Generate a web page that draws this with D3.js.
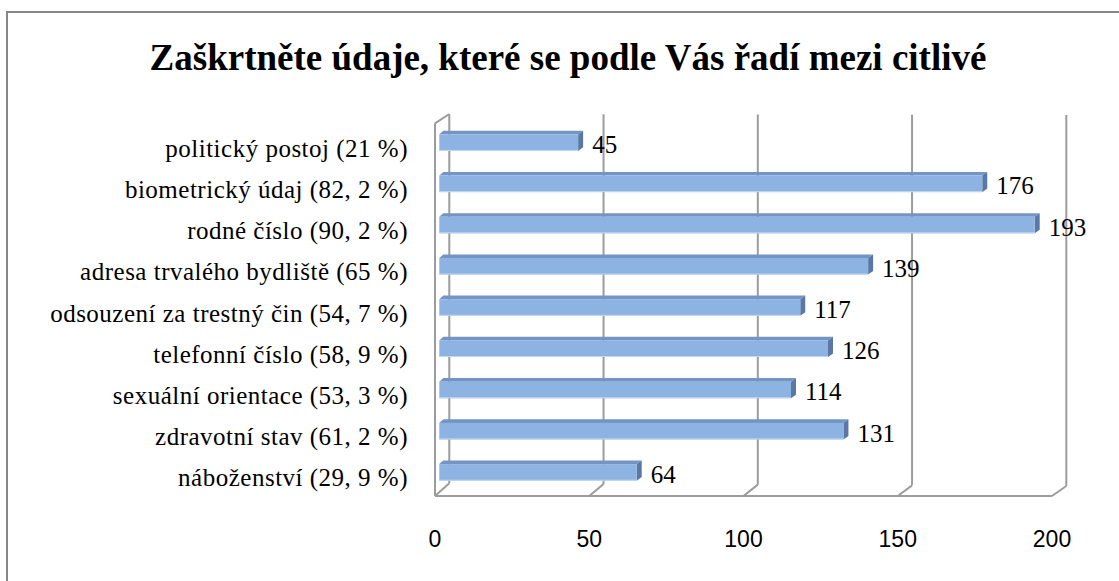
<!DOCTYPE html>
<html>
<head>
<meta charset="utf-8">
<script src="https://cdn.jsdelivr.net/npm/d3@7"></script>
<style>
  html, body { margin: 0; padding: 0; background: #fff; }
  svg { display: block; }
</style>
</head>
<body>
<script>
const titleText = "Zaškrtněte údaje, které se podle Vás řadí mezi citlivé";
const categories = [
  "politický postoj (21 %)",
  "biometrický údaj (82, 2 %)",
  "rodné číslo (90, 2 %)",
  "adresa trvalého bydliště (65 %)",
  "odsouzení za trestný čin (54, 7 %)",
  "telefonní číslo (58, 9 %)",
  "sexuální orientace (53, 3 %)",
  "zdravotní stav (61, 2 %)",
  "náboženství (29, 9 %)"
];
const values = [45, 176, 193, 139, 117, 126, 114, 131, 64];
const tickValues = [0, 50, 100, 150, 200];

const W = 1119, H = 581;
const serif = "'Liberation Serif', 'Times New Roman', Times, serif";
const svg = d3.select("body").append("svg").attr("width", W).attr("height", H);

// outer chart border (only top/left visible in frame)
svg.append("rect").attr("x", 7).attr("y", 12).attr("width", 1140).attr("height", 620)
  .attr("fill", "#fff").attr("stroke", "#878787").attr("stroke-width", 2);

// title
svg.append("text").attr("x", 568).attr("y", 70).attr("text-anchor", "middle")
  .style("font-family", serif)
  .attr("font-weight", "bold").attr("font-size", 37).attr("fill", "#000")
  .text(titleText);

// scales (front plane of the 3D box)
const x = d3.scaleLinear().domain([0, 200]).range([435, 1052]);
const y = d3.scalePoint().domain(categories).range([142.6, 472.4]);

// depth offsets
const backDx = 14.3;
const floorFrontY = 496;
const backBottomY = v => 483.3 + (v / 200) * 2.7;
const backTopY = v => 114 + (v / 200) * 1;
const wallFrontTopY = 123.3;
const gridColor = "#9c9c9c";

const grid = svg.append("g").attr("fill", "none").attr("stroke", gridColor).attr("stroke-width", 2);

// back wall vertical gridlines
grid.selectAll("line.back").data(tickValues).join("line")
  .attr("x1", d => x(d) + backDx).attr("x2", d => x(d) + backDx)
  .attr("y1", d => backTopY(d)).attr("y2", d => backBottomY(d));

// floor diagonals
grid.selectAll("line.floor").data(tickValues).join("line")
  .attr("x1", d => x(d)).attr("y1", floorFrontY)
  .attr("x2", d => x(d) + backDx).attr("y2", d => backBottomY(d));

// front floor edge
grid.append("line").attr("x1", x(0)).attr("x2", x(200)).attr("y1", floorFrontY).attr("y2", floorFrontY);

// left wall
grid.append("line").attr("x1", x(0)).attr("x2", x(0)).attr("y1", wallFrontTopY).attr("y2", floorFrontY);
grid.append("line").attr("x1", x(0)).attr("y1", wallFrontTopY).attr("x2", x(0) + backDx).attr("y2", backTopY(0));

// bars
const barDx = 4.3, barH = 16.6, depX = 5, depY = 3.6;
const bars = svg.append("g");
const data = categories.map((c, i) => ({ c, v: values[i] }));

bars.selectAll("path.top").data(data).join("path")
  .attr("fill", "#7494c4")
  .attr("d", d => {
    const x0 = x(0) + barDx, x1 = x(d.v) + barDx, yt = y(d.c) - barH / 2;
    return `M${x0},${yt}L${x1},${yt}L${x1 + depX},${yt - depY}L${x0 + depX - 1},${yt - depY}Z`;
  });
bars.selectAll("path.side").data(data).join("path")
  .attr("fill", "#5a78a6")
  .attr("d", d => {
    const x1 = x(d.v) + barDx, yt = y(d.c) - barH / 2;
    return `M${x1},${yt}L${x1 + depX},${yt - depY}L${x1 + depX},${yt + barH - depY}L${x1},${yt + barH}Z`;
  });
bars.selectAll("rect.front").data(data).join("rect")
  .attr("fill", "#8db3e2")
  .attr("x", x(0) + barDx).attr("y", d => y(d.c) - barH / 2)
  .attr("width", d => x(d.v) - x(0)).attr("height", barH);
bars.selectAll("line.edge").data(data).join("line")
  .attr("stroke", "#c6d9f1").attr("stroke-width", 1)
  .attr("x1", x(0) + barDx).attr("x2", d => x(d.v) + barDx)
  .attr("y1", d => y(d.c) + barH / 2 - 0.5).attr("y2", d => y(d.c) + barH / 2 - 0.5);

// value labels
svg.append("g").selectAll("text").data(data).join("text")
  .attr("x", d => x(d.v) + barDx + depX + 9).attr("y", d => y(d.c) + 10.5)
  .style("font-family", serif)
  .attr("font-size", 25).attr("fill", "#000")
  .text(d => d.v);

// category labels
svg.append("g").selectAll("text").data(categories).join("text")
  .attr("x", 408).attr("y", d => y(d) + 14)
  .attr("text-anchor", "end")
  .style("font-family", serif)
  .attr("font-size", 25).attr("letter-spacing", 0.5).attr("fill", "#000")
  .text(d => d);

// x-axis tick labels
svg.append("g").selectAll("text").data(tickValues).join("text")
  .attr("x", d => x(d)).attr("y", 547)
  .attr("text-anchor", "middle")
  .style("font-family", "'Liberation Sans', Arial, sans-serif")
  .attr("font-size", 23).attr("fill", "#000")
  .text(d => d);
</script>
</body>
</html>
